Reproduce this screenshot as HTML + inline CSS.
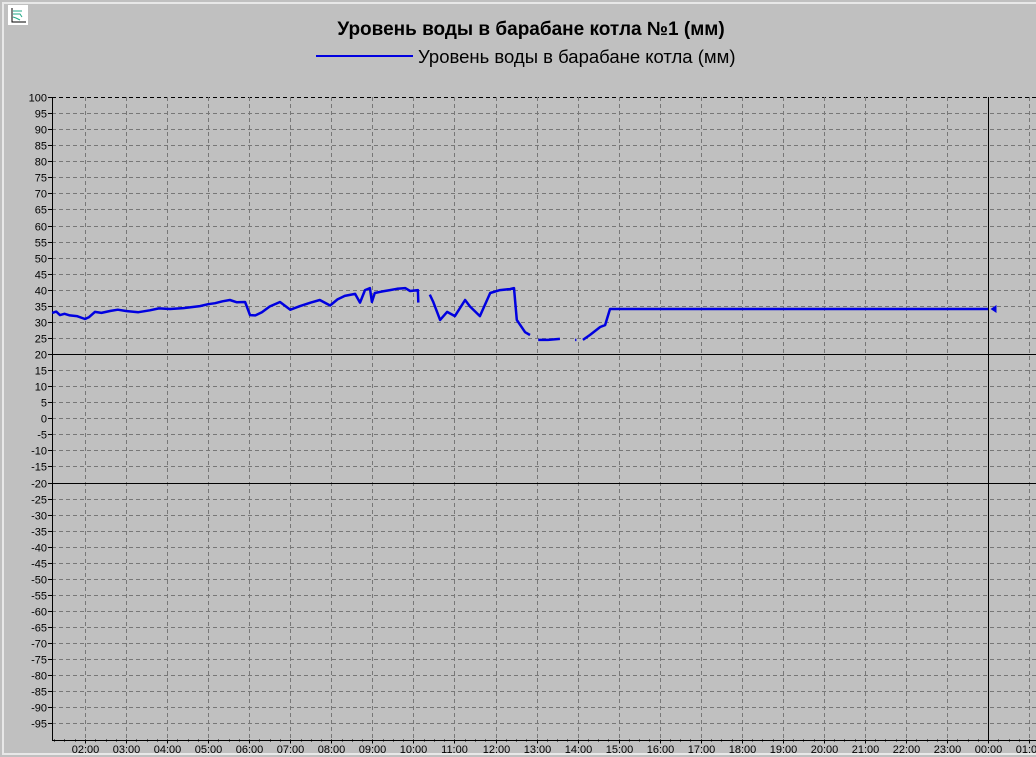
<!DOCTYPE html>
<html><head><meta charset="utf-8">
<style>
html,body{margin:0;padding:0;background:#c0c0c0;}
body{width:1036px;height:757px;overflow:hidden;position:relative;font-family:"Liberation Sans",sans-serif;}
#frame{position:absolute;left:2px;top:2px;width:1034px;height:753px;border-left:2px solid #e8e8e8;border-top:2px solid #e8e8e8;border-bottom:2px solid #e8e8e8;box-sizing:border-box;}
#icon{position:absolute;left:8px;top:5px;width:20px;height:20px;background:#fff;}
</style></head>
<body>
<div id="frame"></div>
<div id="icon">
<svg width="20" height="20"><path d="M4 3V17H18" stroke="#000" fill="none"/><path d="M5 6H14M5 9H12L14 12M5 12L8 13L12 15" stroke="#2a8" fill="none"/></svg>
</div>
<svg id="chart" width="1036" height="757" style="position:absolute;left:0;top:0">
<text x="531" y="35" text-anchor="middle" font-size="19" font-weight="bold" font-family="Liberation Sans, sans-serif">Уровень воды в барабане котла №1 (мм)</text>
<g>
<line x1="316" y1="56" x2="413" y2="56" stroke="#0000e0" stroke-width="2"/>
<text x="418" y="63" font-size="18.5" font-family="Liberation Sans, sans-serif">Уровень воды в барабане котла (мм)</text>
</g>
<g id="grid"></g><g id="axes"></g><g id="series"></g>
</svg>
<script>
const yTicks=[100,95,90,85,80,75,70,65,60,55,50,45,40,35,30,25,20,15,10,5,0,-5,-10,-15,-20,-25,-30,-35,-40,-45,-50,-55,-60,-65,-70,-75,-80,-85,-90,-95];
const xTickLabels=["02:00","03:00","04:00","05:00","06:00","07:00","08:00","09:00","10:00","11:00","12:00","13:00","14:00","15:00","16:00","17:00","18:00","19:00","20:00","21:00","22:00","23:00","00:00","01:00"];
const limitLines=[20,-20];
const times=[1.20,1.30,1.39,1.50,1.63,1.80,2.0,2.10,2.24,2.40,2.61,2.80,3.0,3.30,3.58,3.80,4.07,4.40,4.80,5.0,5.17,5.35,5.53,5.70,5.90,6.02,6.15,6.31,6.50,6.75,7.0,7.24,7.50,7.72,7.97,8.15,8.33,8.58,8.70,8.82,8.94,8.99,9.06,9.25,9.43,9.60,9.80,9.92,10.11,10.12,null,10.40,10.48,10.65,10.82,11.01,11.26,11.38,11.62,11.87,12.11,12.35,12.45,12.52,12.72,12.84,null,13.04,13.28,13.57,null,13.94,13.97,null,14.13,14.30,14.55,14.67,14.79,24.0];
const values=[32.8,33.2,32.1,32.5,32.0,31.8,30.9,31.5,33.1,32.8,33.4,33.8,33.4,33.0,33.6,34.2,34.0,34.3,34.9,35.5,35.8,36.4,36.8,36.1,36.2,32.1,32.0,33.0,34.8,36.2,33.8,34.9,36.0,36.8,35.1,37.0,38.1,38.7,36.0,39.9,40.5,36.2,39.0,39.5,39.9,40.3,40.5,39.6,39.9,36.0,null,38.5,36.3,30.6,33.1,31.8,36.8,34.8,31.8,39.0,39.9,40.2,40.5,30.6,26.8,25.9,null,24.4,24.4,24.7,null,24.4,24.4,null,24.4,25.9,28.4,29.0,34.0,34.0];
const L=52,T=97,B=739.5,R=1036;
const yS=v=>T+(100-v)*(B-T)/200;
const xS=h=>85+(h-2)*41.05;
const NS="http://www.w3.org/2000/svg";
function mk(tag,attrs,parent){const e=document.createElementNS(NS,tag);for(const k in attrs)e.setAttribute(k,attrs[k]);parent.appendChild(e);return e;}
const grid=document.getElementById('grid'),axes=document.getElementById('axes'),series=document.getElementById('series');
yTicks.forEach(v=>{
  const y=Math.round(yS(v))+0.5;
  const l=mk('line',{x1:L,x2:R,y1:y,y2:y,stroke:v===100?'#000':'#777','stroke-dasharray':'4,3','stroke-width':1},grid);
  
  
  mk('line',{x1:L-4,x2:L,y1:y,y2:y,stroke:'#000'},axes);
  const t=mk('text',{x:L-5,y:y+4,'text-anchor':'end','font-size':11,'font-family':'Liberation Sans, sans-serif'},axes);
  t.textContent=v;
  
  
});
xTickLabels.forEach((s,i)=>{
  const x=Math.round(xS(2+i))+0.5;
  if(s!=="00:00"){const l=mk('line',{x1:x,x2:x,y1:T,y2:B,stroke:'#777','stroke-dasharray':'4,3'},grid);
  
  }
  mk('line',{x1:x,x2:x,y1:B,y2:B+4,stroke:'#000'},axes);
  const t=mk('text',{x:x,y:753,'text-anchor':'middle','font-size':11,'font-family':'Liberation Sans, sans-serif'},axes);
  t.textContent=s;
  
  
});
for(let h=1.25;h<25;h+=0.25){const x=Math.round(xS(h))+0.5;if(x>L&&x<R)mk('line',{x1:x,x2:x,y1:B,y2:B+2,stroke:'#000'},axes);}
limitLines.forEach(v=>{const y=Math.round(yS(v))+0.5;
  const l=mk('line',{x1:L,x2:R,y1:y,y2:y,stroke:'#000'},grid);
  
  });
const cx=Math.round(xS(24))+0.5;
const cur=mk('line',{x1:cx,x2:cx,y1:T,y2:B,stroke:'#000'},grid);


mk('line',{x1:L+0.5,x2:L+0.5,y1:T,y2:B+1,stroke:'#000'},axes);
mk('line',{x1:L,x2:R,y1:Math.round(B)+0.5,y2:Math.round(B)+0.5,stroke:'#000'},axes);
let d='',pen=false;
for(let i=0;i<times.length;i++){
  if(times[i]===null||values[i]===null){pen=false;continue;}
  d+=(pen?'L':'M')+xS(times[i]).toFixed(1)+' '+yS(values[i]).toFixed(1);pen=true;
}
const p=mk('path',{d:d,fill:'none',stroke:'#0000e0','stroke-width':2.5,'stroke-linejoin':'round'},series);


const last=values[values.length-1],ly=yS(last);
const m=mk('polygon',{points:`${cx+2},${ly} ${cx+8},${ly-4} ${cx+8},${ly+4}`,fill:'#0000e0'},series);


</script>
</body></html>
